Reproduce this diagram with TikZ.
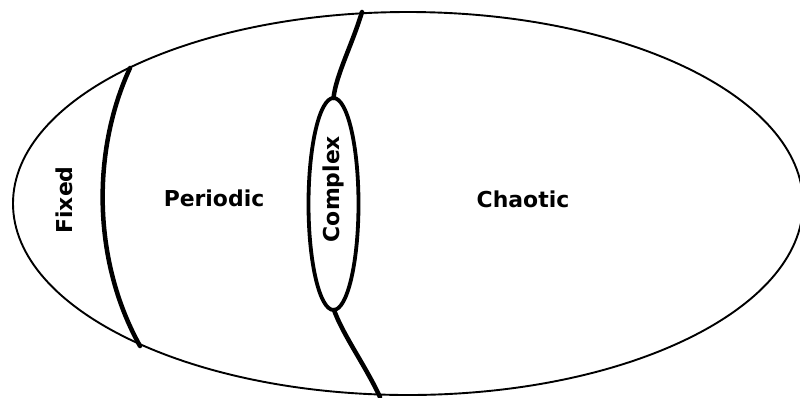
\documentclass[tikz,border=0pt]{standalone}
\usepackage{fontspec}
\setmainfont{DejaVu Sans}
\begin{document}
\begin{tikzpicture}[x=1bp,y=-1bp,
  outline/.style={line width=1.9bp},
  boundary/.style={line width=4.5bp,line cap=round},
  lens/.style={line width=3.8bp},
  label/.style={font=\bfseries\fontsize{22}{26}\selectfont,inner sep=0pt}]
\useasboundingbox (0,0) rectangle (800,397);
\fill[white] (0,0) rectangle (800,397);
% big ellipse
\draw[outline] (408,203.5) ellipse [x radius=395, y radius=191.5];
% fixed / periodic boundary
\draw[boundary] (130,68) .. controls (92,150) and (92,260) .. (140,346);
% complex region
\draw[boundary] (362,12) .. controls (352,45) and (336,75) .. (333.5,98);
\draw[lens] (333.5,204) ellipse [x radius=25, y radius=106];
\draw[boundary] (334,310) .. controls (343,335) and (365,365) .. (380,397);
% labels
\node[label,rotate=90] (fixed) at (64,200) {Fixed};
\node[label] (periodic) at (214,198) {Periodic};
\node[label,rotate=90] (complex) at (333,189) {Complex};
\node[label] (chaotic) at (523,199) {Chaotic};
\end{tikzpicture}
\end{document}
